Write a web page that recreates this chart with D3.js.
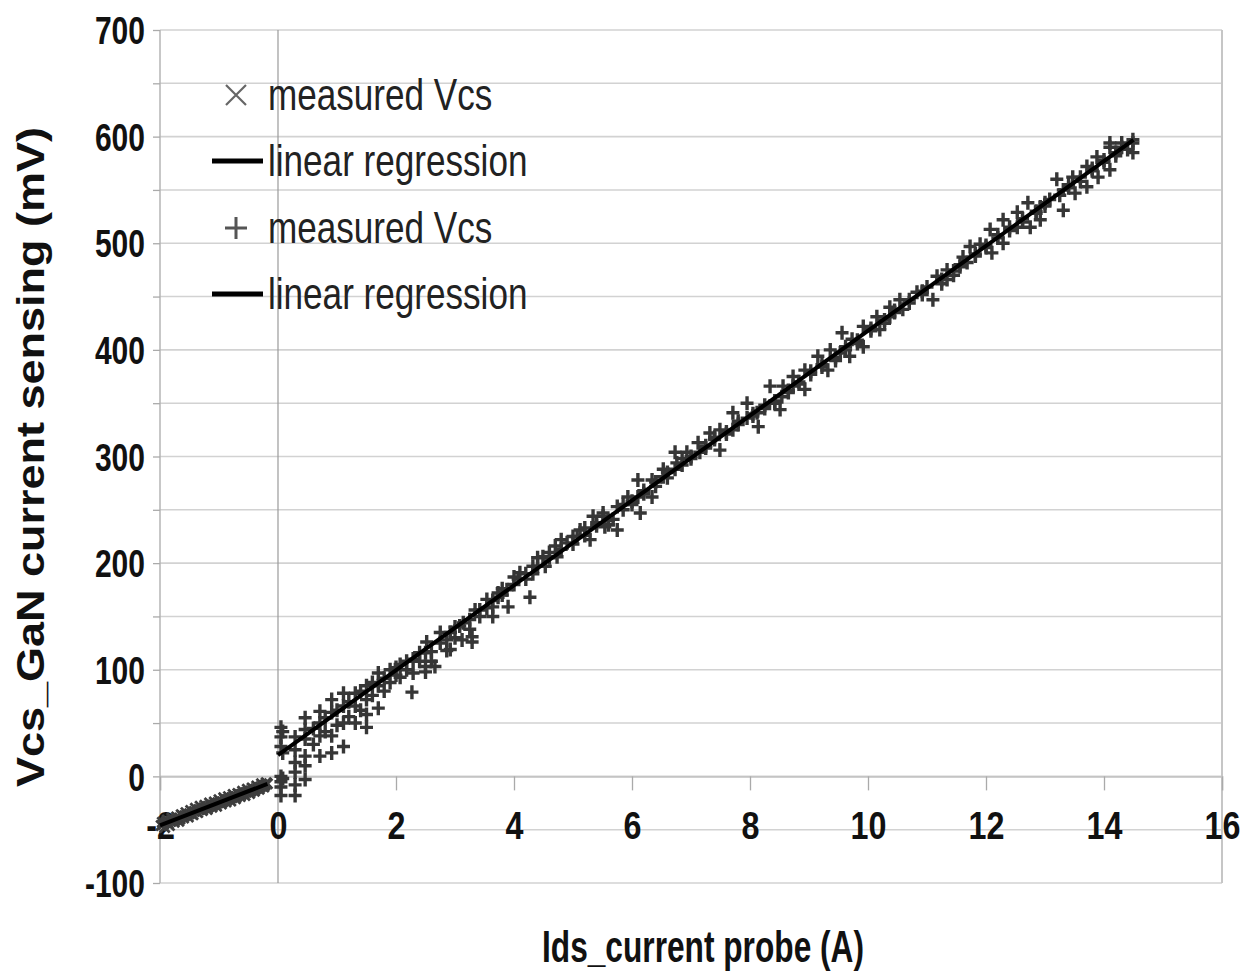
<!DOCTYPE html>
<html>
<head>
<meta charset="utf-8">
<script src="https://cdn.jsdelivr.net/npm/d3@7"></script>
<style>
  body { margin: 0; background: #fff; }
  svg { display: block; font-family: "Liberation Sans", Arial, sans-serif; }
</style>
</head>
<body>
<svg class="chart" width="1251" height="972"></svg>
<script>
// values
var xTicks = [-2, 0, 2, 4, 6, 8, 10, 12, 14, 16];
var yTicks = [-100, -50, 0, 50, 100, 150, 200, 250, 300, 350, 400, 450, 500, 550, 600, 650, 700];
var legendLabels = ["measured Vcs", "linear regression", "measured Vcs", "linear regression"];

// negative current, "x" markers  [Ids (A), Vcs (mV)]
var vcsNeg = [
  [-1.98,-46],[-1.96,-43],[-1.94,-45],[-1.92,-48],[-1.90,-43],[-1.88,-41],[-1.86,-44],[-1.84,-46],
  [-1.82,-42],[-1.80,-39],[-1.78,-41],[-1.76,-43],[-1.74,-41],[-1.72,-38],[-1.70,-39],[-1.68,-42],
  [-1.66,-40],[-1.64,-36],[-1.62,-37],[-1.60,-39],[-1.58,-37],[-1.56,-34],[-1.54,-36],[-1.52,-38],
  [-1.50,-35],[-1.48,-32],[-1.46,-35],[-1.44,-36],[-1.42,-33],[-1.40,-30],[-1.38,-33],[-1.36,-34],
  [-1.34,-31],[-1.32,-28],[-1.30,-31],[-1.28,-32],[-1.26,-30],[-1.24,-27],[-1.22,-29],[-1.20,-31],
  [-1.18,-29],[-1.16,-25],[-1.14,-27],[-1.12,-29],[-1.10,-27],[-1.08,-24],[-1.06,-26],[-1.04,-28],
  [-1.02,-25],[-1.00,-22],[-0.98,-24],[-0.96,-26],[-0.94,-24],[-0.92,-20],[-0.90,-22],[-0.88,-24],
  [-0.86,-22],[-0.84,-19],[-0.82,-21],[-0.80,-23],[-0.78,-20],[-0.76,-17],[-0.74,-19],[-0.72,-21],
  [-0.70,-19],[-0.68,-16],[-0.66,-17],[-0.64,-19],[-0.62,-17],[-0.60,-14],[-0.58,-16],[-0.56,-18],
  [-0.54,-15],[-0.52,-12],[-0.50,-14],[-0.48,-16],[-0.46,-14],[-0.44,-11],[-0.42,-12],[-0.40,-14],
  [-0.38,-12],[-0.36,-9],[-0.34,-11],[-0.32,-12],[-0.30,-10],[-0.28,-7],[-0.26,-9],[-0.24,-10],
  [-0.22,-8],[-0.20,-6],[-0.18,-7]
];

// positive current, "+" markers  [Ids (A), Vcs (mV)]
var vcsPos = [
  [0.05,46],[0.05,37],[0.05,28],[0.05,0],[0.05,-5],[0.05,-10],[0.05,-18],[0.08,42],[0.08,22],[0.08,-2],
  [0.29,37],[0.29,25],[0.29,13],[0.29,4],[0.29,-8],[0.29,-18],
  [0.46,55],[0.46,44],[0.46,35],[0.46,19],[0.46,10],[0.46,-3],[0.6,45],[0.6,30],
  [0.71,61],[0.71,50],[0.71,38],[0.71,19],[0.8,55],[0.8,42],
  [0.91,72],[0.91,60],[0.91,38],[0.91,22],[1.0,62],[1.0,48],
  [1.11,78],[1.11,66],[1.11,50],[1.11,28],[1.2,70],[1.2,56],
  [1.31,78],[1.31,66],[1.31,50],[1.4,80],[1.4,62],
  [1.5,85],[1.5,72],[1.5,58],[1.5,46],[1.6,88],[1.6,76],
  [1.7,97],[1.7,85],[1.7,64],[1.8,92],[1.8,80],[1.9,100],[1.9,88],
  [2.0,102],[2.0,95],[2.07,105],[2.07,93],[2.18,108],[2.18,100],[2.27,79],[2.29,110],[2.29,97],
  [2.4,116],[2.4,108],[2.5,116],[2.5,98],[2.5,103],[2.52,126],[2.6,117],[2.6,108],[2.66,103],
  [2.75,135],[2.75,125],[2.86,128],[2.86,118],[2.92,135],[2.92,119],[3.0,140],[3.0,130],
  [3.08,141],[3.12,128],[3.14,144],[3.25,147],[3.25,138],[3.29,131],[3.29,126],[3.34,156],
  [3.42,156],[3.42,150],[3.54,166],[3.54,158],[3.64,159],[3.64,150],[3.64,165],[3.73,172],[3.73,168],
  [3.8,170],[3.8,176],[3.88,175],[3.9,159],[4.0,180],[4.0,187],[4.07,185],[4.1,191],[4.2,190],[4.2,185],
  [4.27,168],[4.32,197],[4.32,190],[4.4,197],[4.4,205],[4.49,206],[4.53,197],[4.6,205],[4.6,210],
  [4.7,216],[4.73,206],[4.8,213],[4.8,222],[4.9,219],[5.0,218],[5.0,225],[5.07,225],[5.12,231],
  [5.2,226],[5.2,233],[5.29,222],[5.34,244],[5.4,235],[5.4,238],[5.51,247],[5.51,244],[5.54,234],
  [5.6,240],[5.6,236],[5.68,241],[5.75,253],[5.75,231],[5.85,250],[5.85,255],[5.93,262],
  [6.0,255],[6.0,258],[6.1,278],[6.1,262],[6.14,247],[6.2,268],[6.2,265],[6.34,278],[6.34,262],
  [6.4,272],[6.4,276],[6.53,288],[6.53,281],[6.6,280],[6.6,285],[6.73,304],[6.73,288],[6.76,294],
  [6.85,292],[6.85,298],[6.93,304],[7.0,298],[7.0,300],[7.12,313],[7.15,304],[7.25,310],[7.25,308],
  [7.32,322],[7.4,316],[7.4,318],[7.49,325],[7.49,306],[7.6,323],[7.6,321],[7.71,341],[7.71,325],
  [7.8,330],[7.8,333],[7.95,350],[7.95,336],[8.05,340],[8.05,338],[8.12,341],[8.14,328],
  [8.25,345],[8.25,348],[8.34,366],[8.42,352],[8.42,350],[8.51,344],[8.54,356],[8.56,366],
  [8.65,360],[8.65,362],[8.73,366],[8.73,375],[8.83,368],[8.83,370],[8.93,381],[8.93,363],
  [9.03,377],[9.03,380],[9.15,394],[9.22,384],[9.22,386],[9.32,381],[9.36,400],[9.45,393],[9.45,390],
  [9.53,397],[9.56,416],[9.62,400],[9.62,403],[9.69,394],[9.73,410],[9.82,409],[9.82,406],
  [9.92,422],[9.92,403],[10.05,418],[10.05,420],[10.15,431],[10.2,419],[10.28,428],[10.28,425],
  [10.37,440],[10.37,431],[10.45,435],[10.45,437],[10.54,447],[10.59,438],[10.7,444],[10.7,447],
  [10.83,454],[10.92,452],[10.92,455],[11.0,459],[11.1,447],[11.17,469],[11.25,466],[11.25,462],
  [11.34,466],[11.34,475],[11.45,470],[11.45,474],[11.56,480],[11.56,478],[11.61,487],[11.68,482],
  [11.73,497],[11.82,488],[11.82,490],[11.9,499],[12.0,496],[12.0,498],[12.07,513],[12.1,491],
  [12.2,505],[12.2,508],[12.29,522],[12.29,500],[12.4,512],[12.4,515],[12.53,529],[12.53,515],
  [12.62,520],[12.62,523],[12.71,538],[12.75,515],[12.85,530],[12.85,528],[12.92,534],[12.92,522],
  [13.0,535],[13.0,538],[13.08,541],[13.2,560],[13.25,545],[13.31,531],[13.31,550],[13.4,552],[13.4,555],
  [13.47,562],[13.51,547],[13.6,558],[13.6,562],[13.71,572],[13.71,553],[13.8,568],[13.8,570],
  [13.88,581],[13.9,562],[14.0,576],[14.0,578],[14.1,590],[14.1,569],[14.1,594],[14.2,582],[14.2,585],
  [14.3,594],[14.3,590],[14.4,588],[14.49,594],[14.49,585],[14.49,597]
];

// regression end points
var regNeg = [[-2.0,-46],[-0.18,-7]];
var regPos = [[0.0,20],[14.5,597]];

var svg = d3.select("svg.chart");
var x = d3.scaleLinear().domain([-2, 16]).range([160, 1222]);
var y = d3.scaleLinear().domain([-100, 700]).range([883, 30]);

// horizontal grid
svg.append("g").selectAll("line")
  .data(yTicks)
  .enter().append("line")
  .attr("x1", x(-2)).attr("x2", x(16))
  .attr("y1", function(d) { return y(d); })
  .attr("y2", function(d) { return y(d); })
  .style("stroke", "#d2d2d2")
  .style("stroke-width", 1.6);

// frame: left and right sides, vertical axis at x = 0
svg.append("line").attr("x1", x(-2)).attr("x2", x(-2)).attr("y1", y(700)).attr("y2", y(-100))
  .style("stroke", "#b4b4b4").style("stroke-width", 1.5);
svg.append("line").attr("x1", x(16)).attr("x2", x(16)).attr("y1", y(700)).attr("y2", y(-100))
  .style("stroke", "#c6c6c6").style("stroke-width", 2);
svg.append("line").attr("x1", x(0)).attr("x2", x(0)).attr("y1", y(700)).attr("y2", y(-100))
  .style("stroke", "#9a9a9a").style("stroke-width", 1.2);

// y axis
var ys = 0.79;
var yAxis = svg.append("g")
  .attr("transform", "translate(" + x(-2) + ",0)")
  .call(d3.axisLeft(y).tickValues(yTicks).tickSize(7).tickPadding(8)
    .tickFormat(function(d) { return d % 100 === 0 ? String(d) : ""; }));
yAxis.select(".domain").remove();
yAxis.selectAll(".tick line").style("stroke", "#aaa").style("stroke-width", 1.3);
yAxis.selectAll(".tick text")
  .attr("x", -15 / ys)
  .attr("dy", "0.36em")
  .attr("transform", "scale(" + ys + ",1)")
  .style("font-size", "38px")
  .style("font-weight", "bold")
  .style("fill", "#111");

// x axis on the zero line
var xs = 0.85;
var xAxis = svg.append("g")
  .attr("transform", "translate(0," + y(0) + ")")
  .call(d3.axisBottom(x).tickValues(xTicks).tickSize(14).tickPadding(22)
    .tickFormat(function(d) { return String(d); }));
xAxis.select(".domain").style("stroke", "#c4c4c4").style("stroke-width", 1.6);
xAxis.selectAll(".tick line").style("stroke", "#aaa").style("stroke-width", 1.3);
xAxis.selectAll(".tick text")
  .attr("transform", "scale(" + xs + ",1)")
  .style("font-size", "38px")
  .style("font-weight", "bold")
  .style("fill", "#111");

// negative series, x markers
svg.append("g").selectAll("path")
  .data(vcsNeg)
  .enter().append("path")
  .attr("transform", function(d) { return "translate(" + x(d[0]) + "," + y(d[1]) + ")"; })
  .attr("d", "M-5,-5L5,5M5,-5L-5,5")
  .style("stroke", "#3e3e3e")
  .style("stroke-width", 2.8)
  .style("fill", "none");

// positive series, + markers
svg.append("g").selectAll("path")
  .data(vcsPos)
  .enter().append("path")
  .attr("transform", function(d) { return "translate(" + x(d[0]) + "," + y(d[1]) + ")"; })
  .attr("d", "M-6.5,0H6.5M0,-7V7")
  .style("stroke", "#363636")
  .style("stroke-width", 3.4)
  .style("fill", "none");

// regression lines
var line = d3.line()
  .x(function(d) { return x(d[0]); })
  .y(function(d) { return y(d[1]); });

[regNeg, regPos].forEach(function(r) {
  svg.append("path")
    .attr("d", line(r))
    .style("stroke", "#000")
    .style("stroke-width", 4)
    .style("fill", "none");
});

// legend
var legend = svg.append("g");
var rowY = [95, 161, 228, 294];
legendLabels.forEach(function(label, i) {
  var row = legend.append("g").attr("transform", "translate(0," + rowY[i] + ")");
  if (i === 0) {
    row.append("path").attr("d", "M226,-10L246,10M246,-10L226,10")
      .style("stroke", "#666").style("stroke-width", 2.2).style("fill", "none");
  } else if (i === 2) {
    row.append("path").attr("d", "M225,0H247M236,-11V11")
      .style("stroke", "#555").style("stroke-width", 3).style("fill", "none");
  } else {
    row.append("line").attr("x1", 212).attr("x2", 263).attr("y1", 0).attr("y2", 0)
      .style("stroke", "#000").style("stroke-width", 5);
  }
  row.append("text")
    .attr("transform", "translate(268,15) scale(0.78,1)")
    .style("font-size", "45px")
    .style("fill", "#222")
    .text(label);
});

// axis titles
svg.append("text")
  .attr("transform", "translate(703,962) scale(0.72,1)")
  .attr("text-anchor", "middle")
  .style("font-size", "44px")
  .style("font-weight", "bold")
  .style("fill", "#111")
  .text("Ids_current probe (A)");

svg.append("text")
  .attr("transform", "translate(30,457) scale(0.87,1) rotate(-90)")
  .attr("text-anchor", "middle")
  .attr("dy", "0.36em")
  .style("font-size", "45px")
  .style("font-weight", "bold")
  .style("fill", "#111")
  .text("Vcs_GaN current sensing (mV)");
</script>
</body>
</html>
